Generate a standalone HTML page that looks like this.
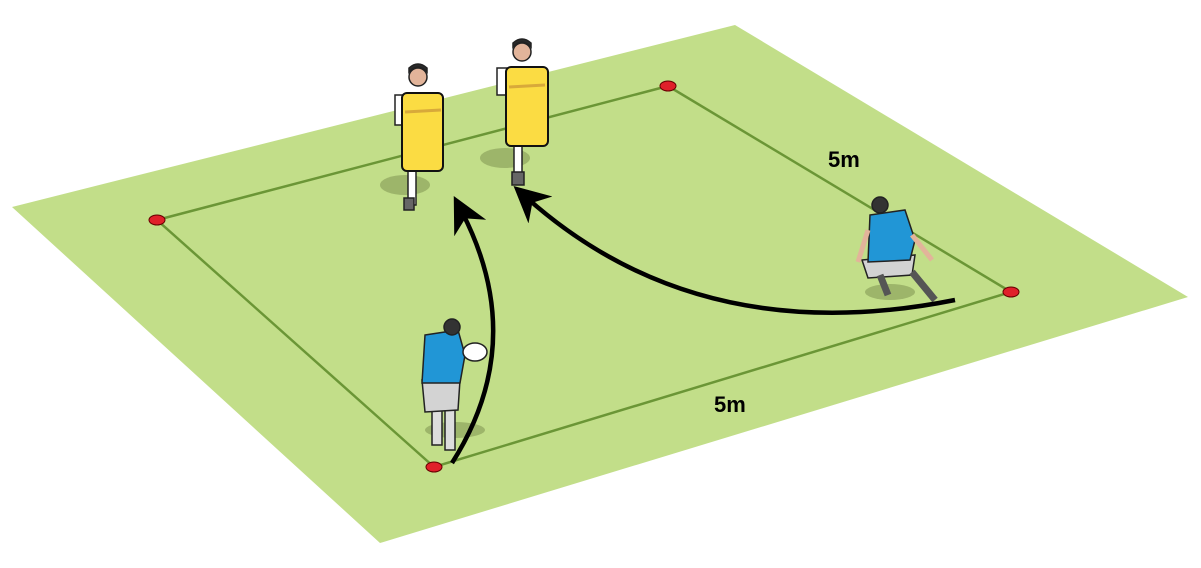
<!DOCTYPE html>
<html><head><meta charset="utf-8"><style>
html,body{margin:0;padding:0;background:#fff;width:1201px;height:568px;overflow:hidden}
</style></head><body>
<svg width="1201" height="568" viewBox="0 0 1201 568" xmlns="http://www.w3.org/2000/svg">
<defs>
<marker id="ah" viewBox="0 0 10 10" refX="5" refY="5" markerWidth="8" markerHeight="8" orient="auto">
<path d="M0,0 L10,5 L0,10 L3,5 Z" fill="#000"/></marker>
</defs>
<polygon points="12,207 735,25 1188,297 380,543" fill="#c2de89"/>
<polygon points="157,220 668,86 1011,292 434,467" fill="none" stroke="#6b9636" stroke-width="2.5"/>
<g font-family="Liberation Sans, sans-serif" font-weight="bold" font-size="22" fill="#000">
<text x="828" y="167">5m</text>
<text x="714" y="412">5m</text>
</g>
<g stroke="#600" stroke-width="1">
<ellipse cx="157" cy="220" rx="8" ry="5" fill="#e0202a"/>
<ellipse cx="668" cy="86" rx="8" ry="5" fill="#e0202a"/>
<ellipse cx="1011" cy="292" rx="8" ry="5" fill="#e0202a"/>
<ellipse cx="434" cy="467" rx="8" ry="5" fill="#e0202a"/>
</g>
<g fill="#9db56a">
<ellipse cx="405" cy="185" rx="25" ry="10"/>
<ellipse cx="505" cy="158" rx="25" ry="10"/>
<ellipse cx="455" cy="430" rx="30" ry="8"/>
<ellipse cx="890" cy="292" rx="25" ry="8"/>
</g>
<g stroke="#222" stroke-width="1.5">
<rect x="408" y="170" width="8" height="35" fill="#fff"/>
<rect x="404" y="198" width="10" height="12" fill="#666"/>
<path d="M395,95 L435,95 L438,125 L395,125 Z" fill="#fff"/>
<circle cx="418" cy="77" r="9" fill="#e2b49a"/>
<path d="M409,72 Q418,62 427,72 L427,68 Q418,60 409,68Z" fill="#2a2a2a"/>
<rect x="402" y="93" width="41" height="78" rx="5" fill="#fbdc43" stroke="#111" stroke-width="2"/>
<line x1="405" y1="112" x2="441" y2="110" stroke="#d8a93a" stroke-width="3"/>
<rect x="514" y="145" width="8" height="35" fill="#fff"/>
<rect x="512" y="172" width="12" height="13" fill="#666"/>
<path d="M497,68 L537,68 L540,95 L497,95 Z" fill="#fff"/>
<circle cx="522" cy="52" r="9" fill="#e2b49a"/>
<path d="M513,47 Q522,37 531,47 L531,43 Q522,35 513,43Z" fill="#2a2a2a"/>
<rect x="506" y="67" width="42" height="79" rx="5" fill="#fbdc43" stroke="#111" stroke-width="2"/>
<line x1="509" y1="87" x2="545" y2="85" stroke="#d8a93a" stroke-width="3"/>
</g>
<g stroke="#222" stroke-width="1.5">
<rect x="432" y="405" width="10" height="40" fill="#ddd"/>
<rect x="445" y="405" width="10" height="45" fill="#ddd"/>
<path d="M422,380 L460,380 L458,410 L425,412 Z" fill="#d3d3d3"/>
<path d="M425,335 L458,330 L465,355 L460,383 L422,383 Z" fill="#2196d6"/>
<circle cx="452" cy="327" r="8" fill="#333"/>
<ellipse cx="475" cy="352" rx="12" ry="9" fill="#fff"/>
</g>
<g stroke="#222" stroke-width="1.5">
<path d="M862,260 L915,255 L912,275 L868,278 Z" fill="#d3d3d3"/>
<path d="M870,215 L905,210 L915,240 L910,260 L868,262 Z" fill="#2196d6"/>
<circle cx="880" cy="205" r="8" fill="#333"/>
<path d="M880,275 L888,295" stroke="#555" stroke-width="7"/>
<path d="M912,272 L935,300" stroke="#555" stroke-width="7"/>
<path d="M868,230 L858,262" stroke="#e2b49a" stroke-width="5"/>
<path d="M912,235 L932,260" stroke="#e2b49a" stroke-width="5"/>
</g>
<path d="M452,463 Q529,342 462,212" fill="none" stroke="#000" stroke-width="4.5" marker-end="url(#ah)"/>
<path d="M955,300 Q699,351 527,198" fill="none" stroke="#000" stroke-width="4.5" marker-end="url(#ah)"/>
</svg>
</body></html>
